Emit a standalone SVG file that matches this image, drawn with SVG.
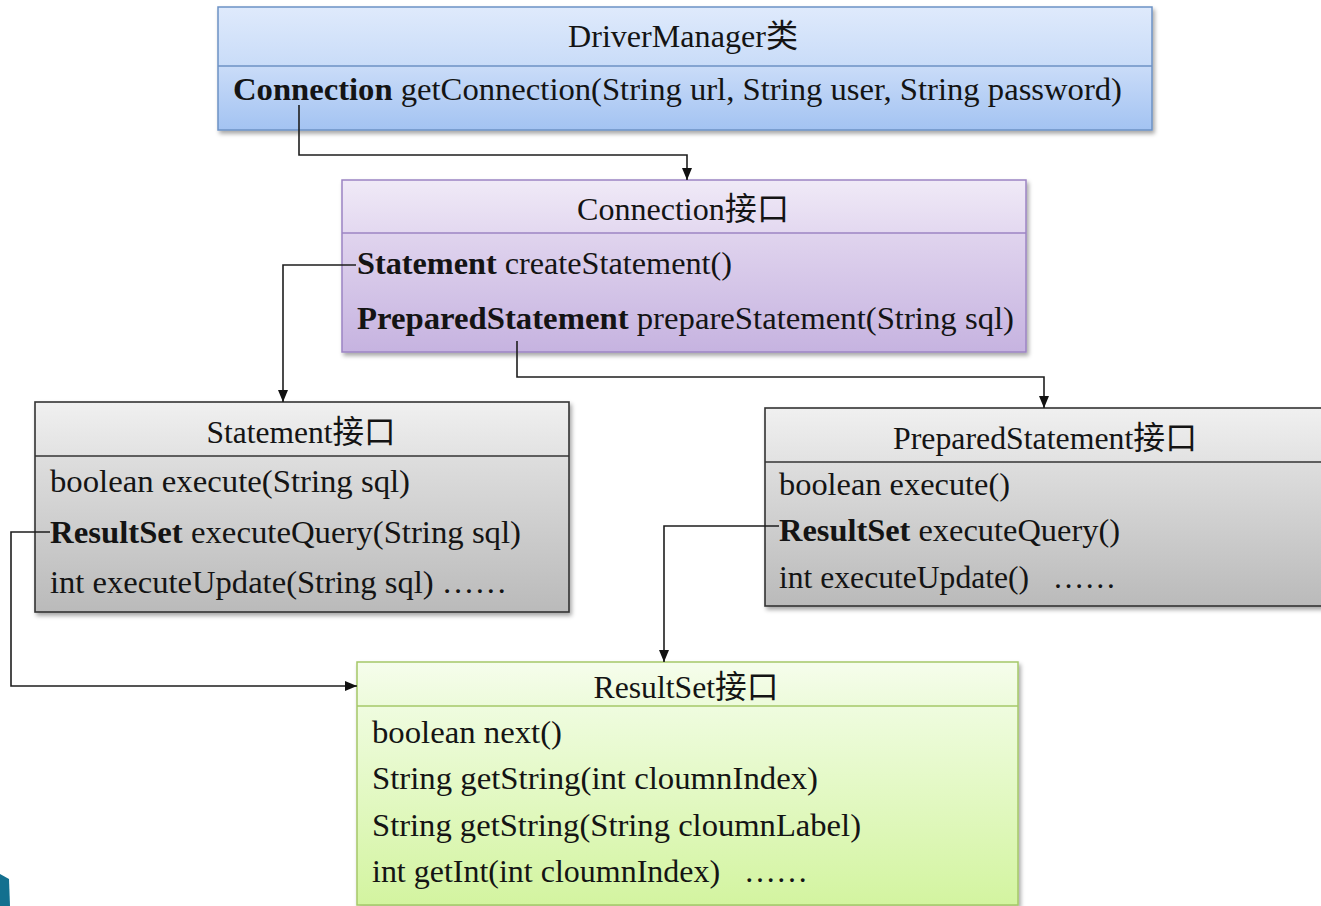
<svg xmlns="http://www.w3.org/2000/svg" width="1321" height="906" viewBox="0 0 1321 906">
  <style>
    text { font-family: "Liberation Serif", "Noto Sans CJK SC", serif; font-size: 32px; fill: #141414; }
    .title { text-anchor: middle; }
    .b { font-weight: bold; }
    .conn { fill: none; stroke: #1e1e1e; stroke-width: 1.6; }
    .arrow { marker-end: url(#head); }
  </style>
  <defs>
    <filter id="shadow" x="-5%" y="-5%" width="112%" height="120%">
      <feDropShadow dx="2" dy="3" stdDeviation="2" flood-color="#000" flood-opacity="0.35"/>
    </filter>
    <marker id="head" viewBox="0 0 12 10" refX="12" refY="5" markerWidth="12" markerHeight="10" markerUnits="userSpaceOnUse" orient="auto">
      <path d="M0,0 L12,5 L0,10 z" fill="#111"/>
    </marker>
    <!-- blue: DriverManager -->
    <linearGradient id="blueHead" x1="0" y1="0" x2="0" y2="1">
      <stop offset="0" stop-color="#dfeafc"/>
      <stop offset="1" stop-color="#c9dcf8"/>
    </linearGradient>
    <linearGradient id="blueBody" x1="0" y1="0" x2="0" y2="1">
      <stop offset="0" stop-color="#cadcf8"/>
      <stop offset="1" stop-color="#a3c3f2"/>
    </linearGradient>
    <!-- purple: Connection -->
    <linearGradient id="purpleHead" x1="0" y1="0" x2="0" y2="1">
      <stop offset="0" stop-color="#f0eaf7"/>
      <stop offset="1" stop-color="#e3d8f0"/>
    </linearGradient>
    <linearGradient id="purpleBody" x1="0" y1="0" x2="0" y2="1">
      <stop offset="0" stop-color="#e0d4ee"/>
      <stop offset="1" stop-color="#c6b3e0"/>
    </linearGradient>
    <!-- grey: Statement / PreparedStatement -->
    <linearGradient id="greyHead" x1="0" y1="0" x2="0" y2="1">
      <stop offset="0" stop-color="#f0f0f0"/>
      <stop offset="1" stop-color="#e2e2e2"/>
    </linearGradient>
    <linearGradient id="greyBody" x1="0" y1="0" x2="0" y2="1">
      <stop offset="0" stop-color="#dedede"/>
      <stop offset="1" stop-color="#bababa"/>
    </linearGradient>
    <!-- green: ResultSet -->
    <linearGradient id="greenHead" x1="0" y1="0" x2="0" y2="1">
      <stop offset="0" stop-color="#f6fdec"/>
      <stop offset="1" stop-color="#edfbdb"/>
    </linearGradient>
    <linearGradient id="greenBody" x1="0" y1="0" x2="0" y2="1">
      <stop offset="0" stop-color="#effcdf"/>
      <stop offset="1" stop-color="#d3f4a0"/>
    </linearGradient>
  </defs>

  <rect width="1321" height="906" fill="#ffffff"/>

  <!-- corner ornament -->
  <polygon points="0,874 9,879 10,906 0,906" fill="#13708f"/>

  <!-- DriverManager class -->
  <g id="driverManager">
    <g filter="url(#shadow)">
      <rect x="218" y="7" width="934" height="59" fill="url(#blueHead)"/>
      <rect x="218" y="66" width="934" height="64" fill="url(#blueBody)"/>
      <rect x="218" y="7" width="934" height="123" fill="none" stroke="#6c92c5" stroke-width="1.5"/>
    </g>
    <line x1="218" y1="66" x2="1152" y2="66" stroke="#6c92c5" stroke-width="1.5"/>
    <text class="title" x="683" y="47" textLength="230" lengthAdjust="spacingAndGlyphs">DriverManager类</text>
    <text x="233" y="100" textLength="889" lengthAdjust="spacingAndGlyphs"><tspan class="b">Connection</tspan> getConnection(String url, String user, String password)</text>
  </g>

  <!-- Connection interface -->
  <g id="connection">
    <g filter="url(#shadow)">
      <rect x="342" y="180" width="684" height="53" fill="url(#purpleHead)"/>
      <rect x="342" y="233" width="684" height="119" fill="url(#purpleBody)"/>
      <rect x="342" y="180" width="684" height="172" fill="none" stroke="#9c84c3" stroke-width="1.5"/>
    </g>
    <line x1="342" y1="233" x2="1026" y2="233" stroke="#9c84c3" stroke-width="1.5"/>
    <text class="title" x="683" y="220" textLength="212" lengthAdjust="spacingAndGlyphs">Connection接口</text>
    <text x="357" y="274" textLength="375" lengthAdjust="spacingAndGlyphs"><tspan class="b">Statement</tspan> createStatement()</text>
    <text x="357" y="329" textLength="657" lengthAdjust="spacingAndGlyphs"><tspan class="b">PreparedStatement</tspan> prepareStatement(String sql)</text>
  </g>

  <!-- Statement interface -->
  <g id="statement">
    <g filter="url(#shadow)">
      <rect x="35" y="402" width="534" height="54" fill="url(#greyHead)"/>
      <rect x="35" y="456" width="534" height="156" fill="url(#greyBody)"/>
      <rect x="35" y="402" width="534" height="210" fill="none" stroke="#333333" stroke-width="1.6"/>
    </g>
    <line x1="35" y1="456" x2="569" y2="456" stroke="#333333" stroke-width="1.6"/>
    <text class="title" x="301" y="443" textLength="189" lengthAdjust="spacingAndGlyphs">Statement接口</text>
    <text x="50" y="492" textLength="360" lengthAdjust="spacingAndGlyphs">boolean execute(String sql)</text>
    <text x="50" y="543" textLength="471" lengthAdjust="spacingAndGlyphs"><tspan class="b">ResultSet</tspan> executeQuery(String sql)</text>
    <text x="50" y="593" textLength="457" lengthAdjust="spacingAndGlyphs">int executeUpdate(String sql) ……</text>
  </g>

  <!-- PreparedStatement interface -->
  <g id="preparedStatement">
    <g filter="url(#shadow)">
      <rect x="765" y="408" width="580" height="54" fill="url(#greyHead)"/>
      <rect x="765" y="462" width="580" height="144" fill="url(#greyBody)"/>
      <rect x="765" y="408" width="580" height="198" fill="none" stroke="#333333" stroke-width="1.6"/>
    </g>
    <line x1="765" y1="462" x2="1321" y2="462" stroke="#333333" stroke-width="1.6"/>
    <text class="title" x="1045" y="449" textLength="304" lengthAdjust="spacingAndGlyphs">PreparedStatement接口</text>
    <text x="779" y="495" textLength="231" lengthAdjust="spacingAndGlyphs">boolean execute()</text>
    <text x="779" y="541" textLength="341" lengthAdjust="spacingAndGlyphs"><tspan class="b">ResultSet</tspan> executeQuery()</text>
    <text x="779" y="588" textLength="337" lengthAdjust="spacingAndGlyphs" xml:space="preserve">int executeUpdate()   ……</text>
  </g>

  <!-- ResultSet interface -->
  <g id="resultSet">
    <g filter="url(#shadow)">
      <rect x="357" y="662" width="661" height="44" fill="url(#greenHead)"/>
      <rect x="357" y="706" width="661" height="199" fill="url(#greenBody)"/>
      <rect x="357" y="662" width="661" height="243" fill="none" stroke="#a5c868" stroke-width="1.5"/>
    </g>
    <line x1="357" y1="706" x2="1018" y2="706" stroke="#a5c868" stroke-width="1.5"/>
    <text class="title" x="686" y="698" textLength="185" lengthAdjust="spacingAndGlyphs">ResultSet接口</text>
    <text x="372" y="743" textLength="190" lengthAdjust="spacingAndGlyphs">boolean next()</text>
    <text x="372" y="789" textLength="446" lengthAdjust="spacingAndGlyphs">String getString(int cloumnIndex)</text>
    <text x="372" y="836" textLength="489" lengthAdjust="spacingAndGlyphs">String getString(String cloumnLabel)</text>
    <text x="372" y="882" textLength="436" lengthAdjust="spacingAndGlyphs" xml:space="preserve">int getInt(int cloumnIndex)   ……</text>
  </g>

  <!-- connectors -->
  <g id="connectors">
    <path class="conn arrow" d="M299,105 V155 H687 V180"/>
    <path class="conn arrow" d="M356,265 H283 V402"/>
    <path class="conn arrow" d="M517,341 V377 H1044 V408"/>
    <path class="conn arrow" d="M50,532 H11 V686 H357"/>
    <path class="conn arrow" d="M779,526 H664 V662"/>
  </g>
</svg>
